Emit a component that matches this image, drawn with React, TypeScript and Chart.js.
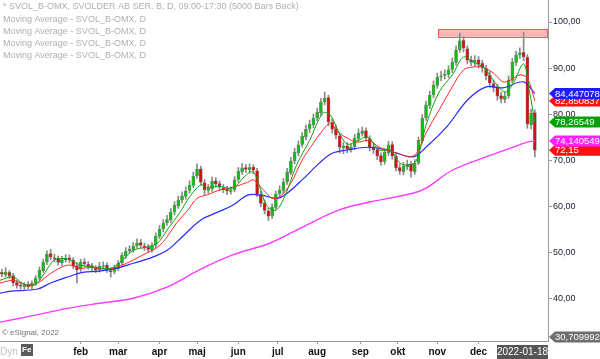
import React, { useEffect, useRef } from 'react';
import { Chart, registerables } from 'chart.js';

Chart.register(...registerables);

const FONT = '"Liberation Sans", Arial, Helvetica, sans-serif';

// ---- Candles (one candle per two trading days), x = trading-day index ----
const opens = [45.6,45.1,45.6,44.9,43.4,42.9,42.5,43.0,42.6,43.2,44.4,46.0,47.9,49.7,48.8,48.7,47.7,48.3,48.8,48.3,47.1,46.3,47.9,47.4,47.1,46.5,46.2,46.9,47.2,46.0,45.8,46.5,47.7,49.2,50.3,50.5,51.4,52.1,51.4,51.1,50.5,51.5,53.4,55.1,56.4,57.0,58.8,60.1,61.4,62.1,63.4,64.5,66.6,68.1,65.1,63.4,63.8,65.5,64.9,64.0,63.7,63.2,63.6,65.8,67.5,68.4,67.9,68.5,67.7,62.5,60.7,59.0,57.9,59.7,62.7,63.4,65.3,67.3,69.9,71.6,73.4,75.1,76.8,77.7,79.2,80.3,82.7,83.6,78.2,76.8,75.3,72.7,73.1,72.3,72.9,74.7,75.8,76.4,74.7,72.9,72.3,71.0,69.7,71.6,73.4,70.8,68.4,67.5,68.6,69.2,67.5,69.4,74.2,79.2,81.9,84.2,86.2,88.1,88.4,88.6,89.7,91.2,94.0,96.0,94.2,91.8,91.2,91.8,91.0,89.9,88.4,86.6,85.8,84.0,83.2,84.0,87.3,91.2,92.9,93.4,92.3,77.7,80.3];
const closes = [45.2,45.7,44.8,43.3,42.8,42.6,42.9,42.5,43.3,44.3,46.1,47.8,49.6,48.9,48.6,47.8,48.4,48.7,48.4,47.0,46.2,47.8,47.5,47.0,46.6,46.1,47.0,47.1,46.1,45.7,46.6,47.6,49.3,50.2,50.6,51.3,52.0,51.5,51.0,50.6,51.4,53.5,55.0,56.3,57.1,58.7,60.2,61.3,62.2,63.3,64.6,66.5,68.0,65.2,63.5,63.9,65.4,64.8,64.1,63.6,63.3,63.5,65.7,67.6,68.3,68.0,68.4,67.8,62.6,60.6,59.1,57.8,59.8,62.6,63.5,65.2,67.4,69.8,71.7,73.3,75.2,76.7,77.8,79.1,80.4,82.6,83.5,78.3,76.7,75.4,72.8,73.0,72.4,72.8,74.8,75.9,76.3,74.8,72.8,72.2,70.9,69.6,71.7,73.3,70.9,68.3,67.6,68.7,69.1,67.6,69.3,74.3,79.1,82.0,84.1,86.3,88.0,88.3,88.7,89.6,91.3,93.9,95.9,94.3,91.7,91.3,91.7,90.9,90.0,88.3,86.7,85.7,83.9,83.3,83.9,87.4,91.3,92.8,93.3,92.4,77.8,80.2,72.15];
const highs = [46.3,46.6,46.0,45.4,43.9,43.5,43.4,43.6,43.8,44.9,46.8,48.5,50.3,50.6,49.6,49.2,49.1,49.5,49.4,48.8,47.7,48.5,48.6,48.0,47.6,47.1,47.8,47.9,47.7,46.6,47.2,48.2,49.9,51.0,51.4,52.1,52.9,52.8,52.0,51.7,52.1,54.2,55.8,57.1,58.0,59.5,61.0,62.2,63.1,64.2,65.5,67.4,69.2,68.7,65.8,64.7,66.3,66.2,65.5,64.7,64.3,64.2,66.4,68.4,69.3,69.1,69.2,69.0,68.2,63.2,61.4,59.6,60.5,63.3,64.4,66.0,68.2,70.6,72.6,74.2,76.0,77.6,78.7,80.0,81.3,83.4,84.8,84.1,79.0,77.6,75.9,73.9,73.8,73.6,75.6,76.8,77.2,77.0,75.3,73.6,72.9,71.6,72.5,74.1,74.0,71.4,69.2,69.5,70.0,69.8,70.1,75.0,79.9,82.8,85.0,87.2,88.9,89.3,89.6,90.5,92.2,94.8,97.6,96.8,94.8,92.6,92.7,92.5,91.7,90.6,89.2,87.4,86.5,84.7,84.8,88.3,92.1,93.7,94.4,97.8,92.9,81.1,80.9];
const lows = [44.7,44.6,44.3,42.7,42.2,42.0,41.9,42.0,42.1,42.8,44.0,45.6,47.3,48.3,47.9,47.2,47.1,47.8,47.7,46.4,43.3,45.8,46.9,46.3,46.0,45.5,45.7,46.4,45.6,44.6,45.3,46.0,47.2,48.6,49.8,50.0,50.9,50.9,50.4,49.9,50.0,51.0,52.9,54.4,55.8,56.4,58.1,59.5,60.7,61.5,62.8,64.0,66.0,64.6,62.4,62.8,63.2,64.1,63.4,62.9,62.5,62.6,63.1,65.2,66.9,67.3,67.2,67.0,62.0,59.9,58.3,56.9,57.3,59.2,62.0,62.9,64.7,66.8,69.2,70.9,72.8,74.4,76.0,77.0,78.5,79.7,82.0,77.4,75.9,74.6,71.5,71.4,71.6,71.7,72.3,74.1,75.2,74.1,72.0,71.4,70.1,68.9,69.1,71.0,70.2,67.6,66.9,66.8,67.9,66.3,66.9,69.0,73.7,78.6,81.2,83.5,85.6,87.2,87.6,87.9,89.0,90.6,93.4,93.5,90.9,90.5,90.4,90.0,89.1,87.4,85.8,84.8,83.0,82.4,82.5,83.4,86.7,90.5,92.1,91.6,76.9,76.8,70.7];

// ---- Moving averages: [trading-day index, value] ----
const ma10Days = [0,7,13,19,24,29,36,43,51,59,64,71,78,84,89,96,101,107,110,117,124,131,135,139,142,147,152,158,165,172,176,180,185,190,196,202,208,213,218,222,227,234,241,247,252,258,264,269,273,279,282,285];
const ma10Vals = [43.9,44.6,43.0,43.0,45.6,48.3,48.5,47.2,46.7,46.5,47.8,50.4,51.1,52.0,54.8,58.7,62.0,64.6,64.1,64.3,63.9,66.7,67.4,63.5,60.2,59.1,62.4,68.9,74.3,80.2,79.8,76.5,73.5,74.1,75.0,72.2,72.2,69.4,68.9,70.0,77.6,84.8,88.5,92.4,91.3,90.0,86.7,84.8,86.3,90.9,85.2,78.26549];
const ma20Days = [0,7,11,16,21,27,36,43,48,57,64,71,78,84,89,94,100,105,110,117,124,132,135,139,142,145,149,155,161,167,172,176,180,185,190,197,202,212,218,222,227,234,241,247,252,257,263,268,272,277,281,285];
const ma20Vals = [43.3,43.9,43.3,42.8,43.5,45.4,47.2,46.5,46.7,46.3,47.0,48.3,49.8,51.1,53.3,56.3,59.1,61.7,62.4,63.5,64.1,65.2,65.7,64.1,62.8,61.7,62.0,65.0,70.0,73.7,76.5,78.0,76.1,74.8,73.9,74.3,72.8,71.5,70.7,71.5,75.9,80.9,85.9,89.6,90.2,90.2,88.9,87.0,87.4,88.5,87.8,82.850837];
const ma50Days = [0,5,20,27,36,44,53,62,71,80,89,97,107,116,124,132,139,148,153,161,170,177,185,196,206,220,227,238,249,259,268,279,285];
const ma50Vals = [41.1,41.5,42.0,43.3,44.6,45.6,45.9,46.5,47.6,48.7,50.4,53.3,57.0,58.7,60.2,62.4,62.4,61.7,62.8,65.7,69.3,71.5,72.2,72.8,72.2,70.7,72.8,77.2,83.0,85.9,85.7,87.0,84.447078];
const ma200Days = [0,16,36,53,71,89,107,124,144,161,180,197,220,227,241,259,272,281,285];
const ma200Vals = [34.8,36.1,37.8,38.9,40.0,42.4,46.3,49.4,52.0,55.4,59.1,60.9,62.8,63.9,67.8,70.7,72.6,73.9,74.140549];

// ---- Axes ----
const monthTickDays = [23,43,63,85,105,127,148,169,192,212,233,255,276];
const monthLabels = ['', 'feb', 'mar', 'apr', 'maj', 'jun', 'jul', 'aug', 'sep', 'okt', 'nov', 'dec', ''];
const yTickValues = [35,40,45,50,55,60,65,70,75,80,85,90,95,100];
const yMin = 30.709992;
const yMax = 104.78;
const xMax = 292;

// ---- Resistance zone ----
const zoneStartDay = 233.4;
const zoneLow = 96.7;
const zoneHigh = 98.5;

// ---- Last-value markers ----
const markerValues = [30.709992, 72.15, 74.140549, 78.26549, 82.850837, 84.447078];
const markerLabels = ['30,709992', '72,15', '74,140549', '78,26549', '82,850837', '84,447078'];
const markerColors = ['#6e6e6e', '#ff1010', '#ff22ff', '#08a008', '#ff1010', '#1c1cff'];

const legendLines = [
  '* SVOL_B-OMX, SVOLDER AB SER. B, D, 09:00-17:30 (5000 Bars Back)',
  'Moving Average - SVOL_B-OMX, D',
  'Moving Average - SVOL_B-OMX, D',
  'Moving Average - SVOL_B-OMX, D',
  'Moving Average - SVOL_B-OMX, D',
];
const lastDateLabel = '2022-01-18';
const copyright = '\u00A9 eSignal, 2022';

const candleDay = (k: number) => 2 * k + 1;

const overlayPlugin = {
  id: 'overlay',
  beforeDatasetsDraw(chart: any) {
    const { ctx, chartArea, scales } = chart;
    const x = scales.x, y = scales.y;
    const x0 = x.getPixelForValue(zoneStartDay);
    const y0 = y.getPixelForValue(zoneHigh);
    const y1 = y.getPixelForValue(zoneLow);
    ctx.save();
    ctx.fillStyle = 'rgba(255,120,120,0.55)';
    ctx.fillRect(x0, y0, chartArea.right - x0, y1 - y0);
    ctx.strokeStyle = '#ff5a5a';
    ctx.lineWidth = 1;
    ctx.strokeRect(Math.round(x0) + 0.5, Math.round(y0) + 0.5, chartArea.right - Math.round(x0) - 1, Math.round(y1 - y0));
    ctx.restore();
  },
  afterDraw(chart: any) {
    const { ctx, chartArea, scales } = chart;
    const y = scales.y;
    ctx.save();
    ctx.font = `9px ${FONT}`;
    ctx.fillStyle = '#b0b0b0';
    ctx.textBaseline = 'middle';
    ctx.textAlign = 'left';
    const ly = [7, 20, 32, 44, 56];
    legendLines.forEach((t, i) => ctx.fillText(t, 3, ly[i]));
    ctx.font = `8px ${FONT}`;
    ctx.fillStyle = '#707070';
    ctx.fillText(copyright, 2, 333);
    ctx.font = `10px ${FONT}`;
    ctx.fillStyle = '#c4c4c4';
    ctx.fillText('Dyn', 0, 352);
    ctx.fillStyle = '#5a5a5a';
    ctx.fillRect(21, 344, 12, 12);
    ctx.fillStyle = '#ffffff';
    ctx.font = `bold 8px ${FONT}`;
    ctx.fillText('Fe', 22, 350);
    ctx.fillStyle = '#555555';
    ctx.fillRect(497, 345, 51, 14);
    ctx.fillStyle = '#ffffff';
    ctx.font = `10px ${FONT}`;
    ctx.textAlign = 'center';
    ctx.fillText(lastDateLabel, 522.5, 352.5);
    ctx.textAlign = 'left';
    ctx.font = `9.5px ${FONT}`;
    markerValues.forEach((v, i) => {
      let yy = y.getPixelForValue(v);
      yy = Math.min(yy, chartArea.bottom - 4);
      const h = 5.5;
      const xl = chartArea.right + 1;
      ctx.fillStyle = markerColors[i];
      ctx.beginPath();
      ctx.moveTo(xl, yy);
      ctx.lineTo(xl + 6, yy - h);
      ctx.lineTo(600, yy - h);
      ctx.lineTo(600, yy + h);
      ctx.lineTo(xl + 6, yy + h);
      ctx.closePath();
      ctx.fill();
      ctx.fillStyle = '#ffffff';
      ctx.fillText(markerLabels[i], xl + 6, yy + 0.5);
    });
    ctx.restore();
  },
};

export default function App() {
  const canvasRef = useRef<HTMLCanvasElement | null>(null);

  useEffect(() => {
    const canvas = canvasRef.current;
    if (!canvas) return;
    const wickData = closes.map((c, k) => ({ x: candleDay(k), y: [lows[k], highs[k]] }));
    const bodyData = closes.map((c, k) => ({ x: candleDay(k), y: [opens[k], c] }));
    const bodyColors = closes.map((c, k) => (c >= opens[k] ? '#10c010' : '#d81010'));
    const toPts = (d: number[], v: number[]) => d.map((x, i) => ({ x, y: v[i] }));

    const lineDs = (data: any, color: string, width: number) => ({
      type: 'line' as const,
      data,
      borderColor: color,
      borderWidth: width,
      pointRadius: 0,
      tension: 0.35,
      fill: false,
    });

    const chart = new Chart(canvas, {
      type: 'bar',
      data: {
        datasets: [
          lineDs(toPts(ma10Days, ma10Vals), '#12a012', 1),
          lineDs(toPts(ma20Days, ma20Vals), '#ff2a2a', 1),
          lineDs(toPts(ma50Days, ma50Vals), '#2a2aff', 1.2),
          lineDs(toPts(ma200Days, ma200Vals), '#ff3cff', 1.4),
          {
            type: 'bar',
            data: bodyData as any,
            backgroundColor: bodyColors,
            borderColor: '#7a7a7a',
            borderWidth: 0.6,
            borderSkipped: false,
            barThickness: 3,
            grouped: false,
          },
          {
            type: 'bar',
            data: wickData as any,
            backgroundColor: '#8a8a8a',
            barThickness: 1,
            grouped: false,
          },
        ] as any,
      },
      options: {
        animation: false,
        responsive: false,
        devicePixelRatio: 1,
        events: [],
        layout: { padding: 0, autoPadding: false } as any,
        plugins: { legend: { display: false }, tooltip: { enabled: false } },
        scales: {
          x: {
            type: 'linear',
            position: 'bottom',
            offset: false,
            min: 0,
            max: xMax,
            afterBuildTicks: (s: any) => {
              s.ticks = monthTickDays.map((v) => ({ value: v }));
            },
            afterFit: (s: any) => {
              s.height = 18;
            },
            grid: { offset: false, drawOnChartArea: false, drawTicks: true, tickLength: 3, color: '#9a9a9a' },
            border: { display: true, color: '#9a9a9a' },
            ticks: {
              autoSkip: false,
              maxRotation: 0,
              padding: 2,
              color: '#111111',
              font: { family: FONT, size: 10, weight: 'bold' },
              callback: (_v: any, i: number) => monthLabels[i] || null,
            },
          },
          y: {
            type: 'linear',
            position: 'right',
            min: yMin,
            max: yMax,
            afterBuildTicks: (s: any) => {
              s.ticks = yTickValues.map((v) => ({ value: v }));
            },
            afterFit: (s: any) => {
              s.width = 52;
              s.paddingTop = 0;
              s.paddingBottom = 0;
            },
            grid: {
              drawOnChartArea: false,
              drawTicks: true,
              tickLength: 4,
              color: (c: any) => {
                const v = c.tick ? c.tick.value : 0;
                return v % 10 !== 0 ? 'rgba(150,150,150,0.45)' : '#9a9a9a';
              },
            },
            border: { display: true, color: '#9a9a9a' },
            ticks: {
              padding: 1,
              color: '#20203a',
              font: { family: FONT, size: 9, lineHeight: 0 },
              callback: (v: any) => {
                const n = Number(v);
                return n % 10 === 0 ? n.toFixed(2).replace('.', ',') : null;
              },
            },
          },
        },
      } as any,
      plugins: [overlayPlugin],
    });
    return () => chart.destroy();
  }, []);

  return (
    <div style={{ position: 'absolute', left: 0, top: 0, width: 600, height: 359, background: '#ffffff' }}>
      <canvas ref={canvasRef} width={600} height={359} style={{ display: 'block' }} />
    </div>
  );
}
